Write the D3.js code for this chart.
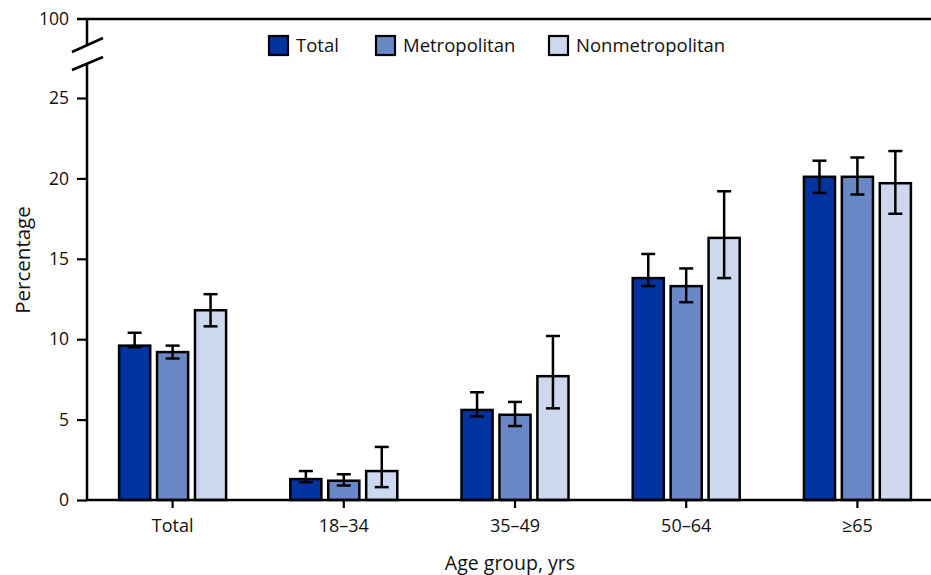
<!DOCTYPE html>
<html><head><meta charset="utf-8">
<script src="https://cdn.jsdelivr.net/npm/d3@7"></script>
<style>body{margin:0;background:#fff}text{font-family:"Open Sans","Noto Sans",sans-serif;fill:#111}</style>
</head><body><svg id="c" width="931" height="575"></svg>
<script>
const categories = ["Total","18–34","35–49","50–64","≥65"];
const seriesNames = ["Total","Metropolitan","Nonmetropolitan"];
const totalVals = [9.6,1.3,5.6,13.8,20.1];
const totalLo   = [9.5,1.1,5.2,13.3,19.1];
const totalHi   = [10.4,1.8,6.7,15.3,21.1];
const metroVals = [9.2,1.2,5.3,13.3,20.1];
const metroLo   = [8.8,0.9,4.6,12.3,19.0];
const metroHi   = [9.6,1.6,6.1,14.4,21.3];
const nonVals   = [11.8,1.8,7.7,16.3,19.7];
const nonLo     = [10.8,0.8,5.7,13.8,17.8];
const nonHi     = [12.8,3.3,10.2,19.2,21.7];
const yTicks = [0,5,10,15,20,25];
const colors = ["#0033a0","#6a87c6","#cdd7ee"];

const series = [
  {name:seriesNames[0], v:totalVals, lo:totalLo, hi:totalHi},
  {name:seriesNames[1], v:metroVals, lo:metroLo, hi:metroHi},
  {name:seriesNames[2], v:nonVals, lo:nonLo, hi:nonHi}
];

const svg = d3.select("#c");
const x0 = d3.scaleBand().domain(categories).range([87,943]);
const x1 = d3.scaleBand().domain(seriesNames).range([-53.5,53.5]).paddingInner(0.18);
const y = d3.scaleLinear().domain([0,25]).range([500,98]);
const yTop = 19;

// bars
categories.forEach((c,i)=>{
  const g = svg.append("g").attr("transform",`translate(${x0(c)+x0.bandwidth()/2},0)`);
  series.forEach((s,j)=>{
    g.append("rect").attr("x",x1(s.name)).attr("width",x1.bandwidth())
      .attr("y",y(s.v[i])).attr("height",y(0)-y(s.v[i]))
      .attr("fill",colors[j]).attr("stroke","#000").attr("stroke-width",2.5);
  });
  series.forEach((s,j)=>{
    const cx = x1(s.name)+x1.bandwidth()/2;
    g.append("line").attr("x1",cx).attr("x2",cx).attr("y1",y(s.hi[i])).attr("y2",y(s.lo[i])).attr("stroke","#000").attr("stroke-width",2.5);
    [s.hi[i],s.lo[i]].forEach(v=>g.append("line").attr("x1",cx-7).attr("x2",cx+7).attr("y1",y(v)).attr("y2",y(v)).attr("stroke","#000").attr("stroke-width",2.5));
  });
});

// y axis
const yAxis = d3.axisLeft(y).tickValues(yTicks).tickSize(10).tickPadding(8);
const ya = svg.append("g").attr("transform","translate(87,0)").call(yAxis);
ya.select(".domain").remove();
ya.selectAll(".tick line").attr("stroke","#000").attr("stroke-width",2.2);
ya.selectAll("text").style("font-size","17.5px").attr("fill","#111");
svg.append("line").attr("x1",87).attr("x2",87).attr("y1",64).attr("y2",501).attr("stroke","#000").attr("stroke-width",2.5);
svg.append("line").attr("x1",87).attr("x2",87).attr("y1",yTop-1).attr("y2",45).attr("stroke","#000").attr("stroke-width",2.5);
svg.append("line").attr("x1",77).attr("x2",931).attr("y1",yTop).attr("y2",yTop).attr("stroke","#000").attr("stroke-width",2.5);
svg.append("text").attr("x",69).attr("y",yTop).attr("dy","0.35em").attr("text-anchor","end").style("font-size","17.5px").text("100");
svg.append("line").attr("x1",72).attr("y1",52).attr("x2",103).attr("y2",38).attr("stroke","#000").attr("stroke-width",2.5);
svg.append("line").attr("x1",72).attr("y1",70).attr("x2",103).attr("y2",57).attr("stroke","#000").attr("stroke-width",2.5);

// x axis
const xAxis = d3.axisBottom(x0).tickSize(8).tickPadding(11);
const xa = svg.append("g").attr("transform","translate(0,500)").call(xAxis);
xa.select(".domain").remove();
xa.selectAll(".tick line").attr("stroke","#000").attr("stroke-width",2.2);
xa.selectAll("text").style("font-size","18px").attr("fill","#111");
svg.append("line").attr("x1",86).attr("x2",931).attr("y1",500).attr("y2",500).attr("stroke","#000").attr("stroke-width",2.5);

// labels
svg.append("text").attr("x",510).attr("y",570).attr("text-anchor","middle").style("font-size","19.5px").text("Age group, yrs");
svg.append("text").attr("transform","translate(30,260) rotate(-90)").attr("text-anchor","middle").style("font-size","20.5px").text("Percentage");

// legend
const legX = [269,376,549];
seriesNames.forEach((n,j)=>{
  svg.append("rect").attr("x",legX[j]).attr("y",36).attr("width",19).attr("height",19).attr("fill",colors[j]).attr("stroke","#000").attr("stroke-width",2.2);
  svg.append("text").attr("x",legX[j]+27).attr("y",46).attr("dy","0.35em").style("font-size","18.5px").text(n);
});
</script></body></html>
